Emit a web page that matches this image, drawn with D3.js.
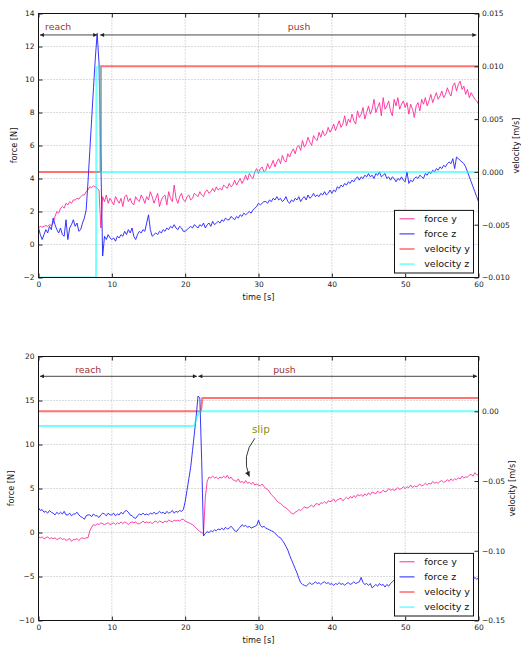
<!DOCTYPE html>
<html>
<head>
<meta charset="utf-8">
<script src="https://cdn.jsdelivr.net/npm/d3@7"></script>
<style>
  body { margin: 0; background: #fff; }
  text { font-family: "DejaVu Sans", sans-serif; }
</style>
</head>
<body>
<svg id="fig" width="521" height="648"></svg>
<script>
// samples every 0.25 s, t = 0 .. 60
const STEP = 0.25;
const xTicks = [0, 10, 20, 30, 40, 50, 60];
const seriesNames = ["force y", "force z", "velocity y", "velocity z"];
const phaseNames = ["reach", "push"];

// ---- upper experiment ----
const topForceY = [
  1.0,1.1,1.05,1.1,1.15,1.1,1.2,1.15,1.3,1.7,2.0,1.9,2.2,2.3,2.2,2.5,2.4,2.6,2.5,2.7,
  2.7,2.8,2.75,2.9,3.0,3.0,3.2,3.3,3.5,3.45,3.55,3.5,3.4,3.3,1.0,2.9,2.6,3.0,2.5,2.8,
  2.6,2.4,2.9,2.7,2.5,2.8,2.3,2.9,3.0,2.6,2.8,2.5,2.4,2.9,2.7,2.6,3.0,2.8,2.5,2.9,
  2.7,3.2,2.9,2.5,2.8,3.1,2.3,2.7,2.9,3.0,2.4,3.2,2.8,2.6,3.6,2.8,2.5,2.9,3.1,2.7,
  2.6,2.9,3.0,2.7,2.8,3.1,3.0,2.9,3.2,3.0,2.9,3.2,3.3,3.1,3.2,3.4,3.2,3.5,3.3,3.4,
  3.3,3.6,3.5,3.4,3.7,3.5,3.6,3.9,3.6,3.8,4.0,3.7,3.9,4.2,3.9,4.3,4.1,4.0,4.4,4.6,
  4.3,4.6,4.7,4.4,4.5,4.9,4.6,4.8,5.1,4.7,5.0,5.2,4.9,5.4,5.1,5.0,5.5,5.3,5.6,5.8,
  5.5,5.9,6.0,5.7,6.3,5.9,6.1,6.5,6.2,6.0,6.6,6.4,6.3,6.8,6.5,6.9,6.6,6.7,7.1,6.8,
  7.0,7.3,6.9,7.2,7.5,7.1,7.3,7.8,7.2,7.6,7.4,7.9,7.5,7.3,8.1,7.7,7.9,8.3,7.6,8.0,
  8.4,7.9,8.2,8.8,8.0,8.3,8.6,7.8,8.9,8.2,8.4,8.7,8.1,7.8,8.8,8.4,8.9,8.2,8.5,8.7,
  8.3,8.6,7.9,8.5,8.2,7.7,8.4,8.6,8.1,8.8,8.5,8.9,8.4,8.7,9.1,8.6,8.9,9.2,8.8,9.0,
  9.3,8.9,9.1,9.5,9.2,9.0,9.6,9.8,9.3,9.7,9.9,9.4,9.6,9.1,9.4,8.9,9.2,9.0,8.8,8.7,
  8.5
];
const topForceZ = [
  1.0,0.6,0.3,0.6,0.9,0.7,1.1,0.9,1.6,1.2,0.9,0.7,1.0,0.6,0.5,1.5,0.3,1.0,1.2,1.5,
  1.1,1.3,0.8,0.9,1.3,1.6,2.1,3.8,5.7,7.6,9.5,11.3,12.8,11.0,5.0,-0.7,0.5,0.3,0.6,0.4,
  0.3,0.4,0.2,0.5,0.4,0.6,0.5,0.8,0.6,0.9,0.7,1.0,0.5,0.3,0.6,0.8,0.7,0.9,0.8,1.3,
  1.8,0.9,0.5,0.6,0.7,0.6,0.8,0.7,0.9,0.8,1.0,0.9,1.1,1.0,1.2,1.0,0.9,1.1,1.0,0.8,
  0.8,0.9,1.0,1.1,1.0,1.2,1.1,1.0,1.2,1.1,1.3,1.0,1.2,1.3,1.1,1.4,1.2,1.3,1.4,1.3,
  1.5,1.4,1.6,1.5,1.5,1.7,1.6,1.5,1.7,1.6,1.8,1.7,1.9,1.8,1.9,2.0,1.9,2.1,2.2,2.3,
  2.5,2.4,2.5,2.6,2.6,2.5,2.7,2.6,2.8,2.7,2.9,2.7,2.8,2.6,2.7,2.9,2.6,2.5,2.7,2.6,
  2.8,2.7,2.9,2.6,2.8,2.9,2.7,3.0,2.8,2.9,3.1,2.9,3.0,2.9,3.1,3.0,3.2,3.0,3.1,3.3,
  3.1,3.3,3.2,3.5,3.4,3.6,3.5,3.7,3.6,3.8,3.7,3.9,3.8,4.0,4.1,3.9,4.1,4.0,4.2,4.1,
  4.3,4.1,4.2,4.0,4.3,4.2,4.4,4.1,4.2,4.3,4.0,4.1,3.9,4.1,4.0,3.8,4.0,3.9,4.1,3.9,
  3.8,4.4,3.7,3.9,3.8,4.0,4.1,4.0,4.2,4.1,4.0,4.3,4.2,4.4,4.3,4.5,4.4,4.6,4.5,4.7,
  4.6,4.8,4.7,4.9,5.0,4.9,5.2,4.6,5.3,5.2,5.1,5.0,4.9,4.7,4.4,4.1,3.8,3.5,3.2,2.9,
  2.6
];
// step signals: breakpoints [t] and values [m/s]
const topVelYTime = [0, 8.5, 8.5, 60];
const topVelY = [0.0, 0.0, 0.010, 0.010];
const topVelZTime = [0, 7.85, 7.9, 8.35, 8.4, 60];
const topVelZ = [-0.010, -0.010, 0.0099, 0.0099, 0.0, 0.0];
const topForceTicks = [-2, 0, 2, 4, 6, 8, 10, 12, 14];
const topVelTicks = [-0.010, -0.005, 0.000, 0.005, 0.010, 0.015];
const topPhaseStart = [0.2, 8.4];
const topPhaseEnd = [8.0, 59.7];

// ---- lower experiment ----
const botForceY = [
  -0.5,-0.6,-0.5,-0.7,-0.6,-0.5,-0.7,-0.6,-0.7,-0.6,-0.8,-0.7,-0.6,-0.8,-0.7,-0.9,-0.8,-0.7,-1.0,-0.8,
  -0.8,-0.7,-0.9,-0.7,-0.6,-0.7,-0.6,-0.6,0.2,0.6,0.9,0.8,1.0,0.9,1.1,1.0,0.9,1.0,1.1,0.9,
  1.0,1.1,0.9,1.1,1.0,1.2,1.0,1.2,1.1,0.9,1.1,1.2,1.1,1.2,1.0,1.0,1.1,1.3,1.1,1.2,
  1.1,1.2,1.0,1.2,1.3,1.1,1.3,1.2,1.1,1.3,1.2,1.4,1.3,1.2,1.4,1.3,1.4,1.3,1.5,1.5,
  1.3,1.2,1.1,1.0,0.9,0.7,0.5,0.3,0.1,0.0,-0.1,4.0,5.8,6.3,6.2,6.4,6.2,6.3,6.1,6.3,
  6.2,6.4,6.2,6.5,6.1,6.3,6.0,5.9,5.8,6.1,5.7,5.8,5.6,5.9,5.6,5.7,5.5,5.7,5.4,5.5,
  5.4,5.3,5.5,5.2,5.0,4.9,4.6,4.3,4.1,3.9,3.6,3.4,3.3,3.1,2.9,2.8,2.6,2.4,2.2,2.1,
  2.3,2.4,2.6,2.5,2.7,2.9,2.8,2.8,3.0,3.1,2.9,3.2,3.3,3.1,3.4,3.3,3.5,3.3,3.6,3.5,
  3.6,3.8,3.5,3.7,3.8,3.9,3.6,3.8,4.0,3.8,4.1,3.9,4.2,4.0,4.3,4.2,4.3,4.1,4.4,4.2,
  4.5,4.3,4.6,4.5,4.4,4.7,4.5,4.6,4.8,4.6,4.7,5.0,4.8,4.9,4.8,4.9,5.1,4.9,5.0,5.2,
  5.0,5.2,5.1,5.4,5.1,5.3,5.2,5.3,5.5,5.3,5.4,5.6,5.4,5.6,5.5,5.8,5.6,5.7,5.6,5.8,
  5.9,5.7,5.8,6.0,5.8,6.1,5.9,6.1,6.0,6.2,6.1,6.4,6.2,6.3,6.3,6.5,6.6,6.4,6.8,6.6,
  6.5
];
const botForceZ = [
  2.8,2.5,2.6,2.3,2.4,2.2,2.5,2.3,2.2,2.0,2.3,2.1,2.3,2.1,2.4,2.0,2.0,2.2,1.9,2.1,
  2.1,2.3,2.0,1.8,1.7,1.5,1.9,2.0,2.0,1.8,2.1,1.9,1.9,1.7,2.0,2.2,2.1,1.9,2.2,2.0,
  2.0,2.2,1.9,2.1,2.0,2.3,2.1,2.4,2.5,2.3,2.0,1.9,1.7,1.6,1.9,2.1,2.0,2.2,2.0,2.1,
  2.0,2.2,2.1,2.3,2.1,2.2,2.4,2.2,2.3,2.1,2.4,2.2,2.3,2.5,2.2,2.4,2.3,2.5,2.4,2.6,
  3.5,4.8,6.1,7.4,9.3,11.2,13.2,15.5,15.3,8.2,-0.4,-0.1,0.1,0.0,0.2,0.1,0.3,0.2,0.4,0.3,
  0.5,0.3,0.6,0.4,0.5,0.7,0.5,0.2,0.1,0.4,0.6,0.9,0.7,0.8,0.6,0.7,0.5,0.6,0.7,0.8,
  1.4,0.8,0.6,0.7,0.5,0.4,0.3,0.2,0.1,-0.1,-0.3,-0.5,-0.6,-0.9,-1.2,-1.6,-2.0,-2.6,-3.1,-3.6,
  -4.1,-4.6,-5.2,-5.7,-5.9,-6.0,-6.1,-5.9,-5.7,-5.9,-5.8,-5.6,-5.8,-5.7,-5.9,-5.7,-5.6,-5.8,-5.7,-5.9,
  -5.8,-6.0,-5.8,-5.9,-5.7,-5.9,-5.8,-6.0,-5.8,-5.7,-5.9,-5.8,-5.6,-5.8,-5.7,-5.6,-5.1,-5.7,-5.9,-5.8,
  -6.0,-5.8,-6.3,-6.1,-5.9,-6.1,-5.8,-6.0,-5.9,-6.2,-5.9,-6.1,-5.8,-5.6,-5.4,-5.7,-5.6,-5.8,-5.5,-5.7,
  -5.6,-5.8,-5.5,-5.7,-5.6,-5.4,-5.7,-5.5,-5.6,-5.8,-5.5,-5.6,-5.4,-5.7,-5.5,-5.6,-5.4,-5.6,-5.3,-5.5,
  -5.5,-5.7,-5.4,-5.6,-5.4,-5.5,-5.3,-5.6,-5.4,-5.5,-5.3,-5.4,-5.2,-5.4,-5.3,-5.5,-5.2,-5.4,-5.1,-5.3,
  -5.2
];
const botVelYTime = [0, 22.15, 22.35, 60];
const botVelY = [0.0, 0.0, 0.0095, 0.0095];
const botVelZTime = [0, 21.2, 21.9, 60];
const botVelZ = [-0.0105, -0.0105, 0.0, 0.0];
const botForceTicks = [-10, -5, 0, 5, 10, 15, 20];
const botVelTicks = [-0.15, -0.10, -0.05, 0.00];
const botPhaseStart = [0.2, 21.8];
const botPhaseEnd = [21.6, 59.8];

const COLORS = ["#ff2a9a", "#1f1fff", "rgba(255,0,0,0.55)", "rgba(0,255,255,0.55)"];
const X0 = 38.5, X1 = 478.5;

const svg = d3.select("#fig");
const defs = svg.append("defs");
defs.append("marker").attr("id", "head")
  .attr("viewBox", "0 0 10 10").attr("refX", 10).attr("refY", 5)
  .attr("markerWidth", 5).attr("markerHeight", 4)
  .attr("markerUnits", "userSpaceOnUse").attr("orient", "auto-start-reverse")
  .append("path").attr("d", "M0,0L10,5L0,10z").attr("fill", "#222");
defs.append("marker").attr("id", "headBig")
  .attr("viewBox", "0 0 10 10").attr("refX", 10).attr("refY", 5)
  .attr("markerWidth", 6).attr("markerHeight", 5)
  .attr("markerUnits", "userSpaceOnUse").attr("orient", "auto")
  .append("path").attr("d", "M0,0L10,5L0,10z").attr("fill", "#222");

const toPoints = vals => vals.map((v, i) => ({ t: i * STEP, v: v }));
const toSteps = (ts, vs) => ts.map((t, i) => ({ t: t, v: vs[i] }));

function drawPanel(p) {
  const x = d3.scaleLinear().domain([0, 60]).range([X0, X1]);
  const y = d3.scaleLinear().domain(p.fDomain).range([p.bottom, p.top]);
  const yv = d3.scaleLinear().domain(p.vDomain).range([p.bottom, p.top]);
  const g = svg.append("g");

  const clipId = "clip-" + p.key;
  g.append("clipPath").attr("id", clipId).append("rect")
    .attr("x", X0).attr("y", p.top).attr("width", X1 - X0).attr("height", p.bottom - p.top);

  // dotted grid
  const grid = g.append("g").attr("stroke", "#8c8c8c").attr("stroke-width", 0.6)
    .attr("stroke-dasharray", "1,2");
  grid.selectAll("line.gx").data(xTicks.slice(1, -1)).join("line").attr("class", "gx")
    .attr("x1", d => x(d)).attr("x2", d => x(d)).attr("y1", p.top).attr("y2", p.bottom);
  grid.selectAll("line.gy").data(p.fTicks.slice(1, -1)).join("line").attr("class", "gy")
    .attr("x1", X0).attr("x2", X1).attr("y1", d => y(d)).attr("y2", d => y(d));

  // curves
  const lineF = d3.line().x(d => x(d.t)).y(d => y(d.v));
  const lineV = d3.line().x(d => x(d.t)).y(d => yv(d.v));
  const plot = g.append("g").attr("clip-path", `url(#${clipId})`).attr("fill", "none");
  plot.append("path").attr("d", lineF(toPoints(p.forceY)))
    .attr("stroke", COLORS[0]).attr("stroke-width", 0.9);
  plot.append("path").attr("d", lineF(toPoints(p.forceZ)))
    .attr("stroke", COLORS[1]).attr("stroke-width", 0.9);
  plot.append("path").attr("d", lineV(toSteps(p.velYTime, p.velY)))
    .attr("stroke", COLORS[2]).attr("stroke-width", 2);
  plot.append("path").attr("d", lineV(toSteps(p.velZTime, p.velZ)))
    .attr("stroke", COLORS[3]).attr("stroke-width", 2);

  // frame
  g.append("rect").attr("x", X0).attr("y", p.top).attr("width", X1 - X0)
    .attr("height", p.bottom - p.top).attr("fill", "none").attr("stroke", "#111").attr("stroke-width", 1);

  // axes (inward ticks)
  const styleAxis = a => {
    a.select(".domain").remove();
    a.attr("font-family", "DejaVu Sans").attr("font-size", 7.5).attr("color", "#222");
  };
  g.append("g").attr("transform", `translate(0,${p.bottom})`)
    .call(d3.axisBottom(x).tickValues(xTicks).tickSize(-4).tickPadding(4).tickFormat(d3.format("d")))
    .call(styleAxis);
  g.append("g").attr("transform", `translate(0,${p.top})`)
    .call(d3.axisTop(x).tickValues(xTicks).tickSize(-4).tickFormat(""))
    .call(styleAxis);
  g.append("g").attr("transform", `translate(${X0},0)`)
    .call(d3.axisLeft(y).tickValues(p.fTicks).tickSize(-4).tickPadding(4).tickFormat(d3.format("d")))
    .call(styleAxis);
  g.append("g").attr("transform", `translate(${X1},0)`)
    .call(d3.axisRight(yv).tickValues(p.vTicks).tickSize(-4).tickPadding(3.5).tickFormat(d3.format(p.vFormat)))
    .call(styleAxis);

  // axis titles
  const midY = (p.top + p.bottom) / 2;
  g.append("text").attr("transform", `translate(${p.fLabelX},${midY}) rotate(-90)`)
    .attr("text-anchor", "middle").attr("font-size", 8.2).attr("fill", "#111").text("force [N]");
  g.append("text").attr("transform", `translate(${p.vLabelX},${midY}) rotate(-90)`)
    .attr("text-anchor", "middle").attr("font-size", 8.2).attr("fill", "#111").text("velocity [m/s]");
  g.append("text").attr("x", (X0 + X1) / 2).attr("y", p.bottom + 22)
    .attr("text-anchor", "middle").attr("font-size", 8.2).attr("fill", "#111").text("time [s]");

  // phase arrows
  const ay = y(p.arrowF);
  phaseNames.forEach((name, i) => {
    g.append("line")
      .attr("x1", x(p.phaseStart[i])).attr("x2", x(p.phaseEnd[i]))
      .attr("y1", ay).attr("y2", ay)
      .attr("stroke", "#333").attr("stroke-width", 0.9)
      .attr("marker-start", "url(#head)").attr("marker-end", "url(#head)");
    g.append("text").attr("x", x(p.phaseTextT[i])).attr("y", y(p.phaseTextF))
      .attr("font-size", 9.3).attr("fill", "#a03232").text(name);
  });

  // legend (lower right)
  const lw = 79, lh = 62.6;
  const lx = X1 - 5 - lw, ly = p.bottom - 4.5 - lh;
  const leg = g.append("g").attr("transform", `translate(${lx},${ly})`);
  leg.append("rect").attr("width", lw).attr("height", lh)
    .attr("fill", "#fff").attr("stroke", "#111").attr("stroke-width", 1);
  seriesNames.forEach((name, i) => {
    const cy = 8.4 + i * 15.1;
    leg.append("line").attr("x1", 5).attr("x2", 20).attr("y1", cy).attr("y2", cy)
      .attr("stroke", COLORS[i]).attr("stroke-width", i < 2 ? 1 : 1.6);
    leg.append("text").attr("x", 29.7).attr("y", cy).attr("dy", "0.35em")
      .attr("font-size", 9.5).attr("fill", "#111").text(name);
  });

  return { x, y, g };
}

drawPanel({
  key: "top", top: 13.5, bottom: 277.5,
  fDomain: [-2, 14], fTicks: topForceTicks,
  vDomain: [-0.010, 0.015], vTicks: topVelTicks, vFormat: ".3f",
  forceY: topForceY, forceZ: topForceZ,
  velYTime: topVelYTime, velY: topVelY, velZTime: topVelZTime, velZ: topVelZ,
  fLabelX: 17, vLabelX: 519,
  arrowF: 12.7, phaseStart: topPhaseStart, phaseEnd: topPhaseEnd,
  phaseTextT: [0.9, 34.0], phaseTextF: 13.0
});

const bot = drawPanel({
  key: "bot", top: 356.5, bottom: 620.5,
  fDomain: [-10, 20], fTicks: botForceTicks,
  vDomain: [-0.15, 0.0393], vTicks: botVelTicks, vFormat: ".2f",
  forceY: botForceY, forceZ: botForceZ,
  velYTime: botVelYTime, velY: botVelY, velZTime: botVelZTime, velZ: botVelZ,
  fLabelX: 13.5, vLabelX: 515,
  arrowF: 17.75, phaseStart: botPhaseStart, phaseEnd: botPhaseEnd,
  phaseTextT: [5.0, 32.0], phaseTextF: 18.1
});

// "slip" annotation with curved arrow
const s0 = [bot.x(29.5), bot.y(10.7)];
const s1 = [bot.x(28.75), bot.y(6.35)];
const ctrl = [s0[0] - 14, (s0[1] + s1[1]) / 2 - 2];
bot.g.append("path")
  .attr("d", `M${s0[0]},${s0[1]}Q${ctrl[0]},${ctrl[1]} ${s1[0]},${s1[1]}`)
  .attr("fill", "none").attr("stroke", "#222").attr("stroke-width", 0.9)
  .attr("marker-end", "url(#headBig)");
bot.g.append("text").attr("x", bot.x(29.1)).attr("y", bot.y(11.3))
  .attr("font-size", 10.5).attr("fill", "#8f8f14").text("slip");
</script>
</body>
</html>
